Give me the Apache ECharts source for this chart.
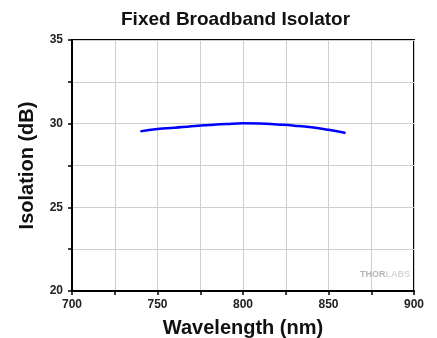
<!DOCTYPE html>
<html>
<head>
<meta charset="utf-8">
<script src="https://cdn.jsdelivr.net/npm/echarts@6/dist/echarts.min.js"></script>
<style>
  html, body { margin: 0; padding: 0; background: #fff; }
  #main { width: 437px; height: 338px; }
</style>
</head>
<body>
<div id="main"></div>
<script>
// wavelength (nm) and isolation (dB)
var wavelength = [740, 750, 760, 770, 780, 790, 800, 810, 820, 830, 840, 850, 860]
var isolation = [29.54, 29.68, 29.76, 29.85, 29.92, 29.98, 30.02, 30.01, 29.95, 29.88, 29.78, 29.63, 29.44]

var chart = echarts.init(document.getElementById('main'))
var font = '"Liberation Sans", Arial, sans-serif'

var option = {
  animation: false,
  title: {
    text: 'Fixed Broadband Isolator',
    left: 116,
    top: 5,
    textStyle: { fontFamily: font, fontWeight: 'bold', fontSize: 19, color: '#111' }
  },
  grid: {
    left: 72, right: 23, top: 40, bottom: 47,
    outerBoundsMode: 'none',
    containLabel: false,
    show: true,
    borderColor: '#000',
    borderWidth: 2
  },
  xAxis: {
    type: 'value',
    min: 700, max: 900, interval: 50,
    name: 'Wavelength (nm)',
    nameLocation: 'middle',
    nameGap: 27,
    nameTextStyle: { fontFamily: font, fontWeight: 'bold', fontSize: 20, color: '#111' },
    axisLine: { lineStyle: { color: '#000', width: 2 } },
    axisTick: { show: true, length: 4, lineStyle: { color: '#000', width: 1.5 } },
    minorTick: { show: true, splitNumber: 2, length: 4, lineStyle: { color: '#000', width: 1.5 } },
    axisLabel: { fontFamily: font, fontWeight: 'bold', fontSize: 12, color: '#222', margin: 8 },
    splitLine: { show: true, lineStyle: { color: '#cfcfcf', width: 1 } },
    minorSplitLine: { show: true, lineStyle: { color: '#cfcfcf', width: 1 } }
  },
  yAxis: {
    type: 'value',
    min: 20, max: 35, interval: 5,
    name: 'Isolation (dB)',
    nameLocation: 'middle',
    nameGap: 35,
    nameRotate: 90,
    nameTextStyle: { fontFamily: font, fontWeight: 'bold', fontSize: 20, color: '#111' },
    axisLine: { show: true, lineStyle: { color: '#000', width: 2 } },
    axisTick: { show: true, length: 4, lineStyle: { color: '#000', width: 1.5 } },
    minorTick: { show: true, splitNumber: 2, length: 4, lineStyle: { color: '#000', width: 1.5 } },
    axisLabel: { fontFamily: font, fontWeight: 'bold', fontSize: 12, color: '#222', margin: 9 },
    splitLine: { show: true, lineStyle: { color: '#cfcfcf', width: 1 } },
    minorSplitLine: { show: true, lineStyle: { color: '#cfcfcf', width: 1 } }
  },
  graphic: [
    {
      type: 'text',
      left: 360,
      top: 270,
      style: {
        text: '{a|THOR}{b|LABS}',
        rich: {
          a: { fontFamily: font, fontWeight: 'bold', fontSize: 9, fill: '#b4b4b4' },
          b: { fontFamily: font, fontWeight: 'bold', fontSize: 9, fill: '#d6d6d6' }
        }
      }
    }
  ],
  series: [
    {
      type: 'line',
      data: wavelength.map(function (w, i) { return [w, isolation[i]] }),
      smooth: true,
      showSymbol: false,
      lineStyle: { color: '#0000ff', width: 2.5 }
    }
  ]
}
chart.setOption(option)
</script>
</body>
</html>
